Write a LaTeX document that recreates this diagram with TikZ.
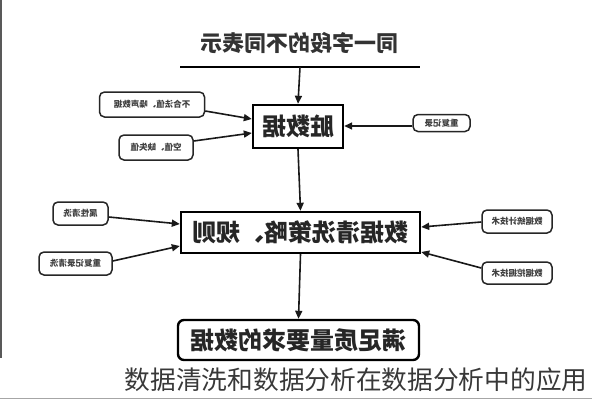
\documentclass[tikz,border=0pt]{standalone}
\usepackage{fontspec}
\usepackage{graphicx}
\newfontfamily\cjk{Noto Sans CJK SC}
\usetikzlibrary{arrows.meta}
\tikzset{
  mainbox/.style={draw=black, line width=2.4pt, fill=white, inner sep=0pt, font=\cjk\bfseries\fontsize{24}{26}\selectfont, text=black!85},
  smallbox/.style={draw=black!85, line width=1.5pt, rounded corners=5pt, fill=white, inner sep=0pt, font=\cjk\bfseries\fontsize{8.5}{10}\selectfont, text=black!75},
  conn/.style={draw=black!90, line width=1.6pt, -{Triangle[length=8pt,width=7pt]}},
}
\begin{document}
\begin{tikzpicture}[x=1pt,y=-1pt]
\useasboundingbox (0,0) rectangle (592,400);
% frame lines
\draw[black!65, line width=1.5pt] (1,0) -- (1,358);
\draw[black!35, line width=1pt] (0,398.5) -- (592,398.5);
% title
\node[font=\cjk\bfseries\fontsize{22}{24}\selectfont, text=black!80] (title) at (299,43) {\reflectbox{同一字段的不同表示}};
\coordinate (hl) at (180,67);
\coordinate (hr) at (420,67);
\coordinate (hm) at (300,67);
\draw[black, line width=2.4pt] (hl) -- (hr);
% main boxes
\node[mainbox, minimum width=90pt, minimum height=43pt] (b1) at (298,126.5) {\reflectbox{脏数据}};
\node[mainbox, minimum width=239pt, minimum height=41pt] (b2) at (300.5,232.5) {\reflectbox{数据清洗策略、规则}};
\node[mainbox, rounded corners=6pt, minimum width=241pt, minimum height=40pt] (b3) at (298.5,340) {\reflectbox{满足质量要求的数据}};
% small boxes
\node[smallbox, minimum width=105pt, minimum height=25pt] (s1) at (152,104.5) {\reflectbox{不合法值、噪声数据}};
\node[smallbox, minimum width=74pt, minimum height=25pt] (s2) at (156,147.5) {\reflectbox{空值、缺失值}};
\node[smallbox, minimum width=57pt, minimum height=17pt] (s3) at (441.5,123) {\reflectbox{重复记录}};
\node[smallbox, minimum width=55pt, minimum height=23pt] (s4) at (80.5,213.5) {\reflectbox{属性清洗}};
\node[smallbox, minimum width=73pt, minimum height=23pt] (s5) at (75.5,263.5) {\reflectbox{重复记录清洗}};
\node[smallbox, minimum width=70pt, minimum height=23pt] (s6) at (517,221.5) {\reflectbox{数据统计技术}};
\node[smallbox, minimum width=70pt, minimum height=22pt] (s7) at (517,273) {\reflectbox{数据挖掘技术}};
% connectors
\draw[conn] (hm) -- (b1.north);
\draw[conn] (b1.south) -- (b2.north);
\draw[conn] (b2.south) -- (b3.north);
\draw[conn] (s1.east |- 0,111) -- (b1.west |- 0,119);
\draw[conn] (s2.east |- 0,141) -- (b1.west |- 0,133);
\draw[conn] (s3.west |- 0,126) -- (b1.east |- 0,126);
\draw[conn] (s4.east |- 0,217) -- (b2.west |- 0,224);
\draw[conn] (s5.east |- 0,261) -- (b2.west |- 0,246);
\draw[conn] (s6.west |- 0,222) -- (b2.east |- 0,227);
\draw[conn] (s7.west |- 0,268) -- (b2.east |- 0,252);
% caption
\node[font=\cjk\fontsize{25.7}{27}\selectfont, text=black!78, anchor=east] (cap) at (591,380) {数据清洗和数据分析在数据分析中的应用};
\end{tikzpicture}
\end{document}
